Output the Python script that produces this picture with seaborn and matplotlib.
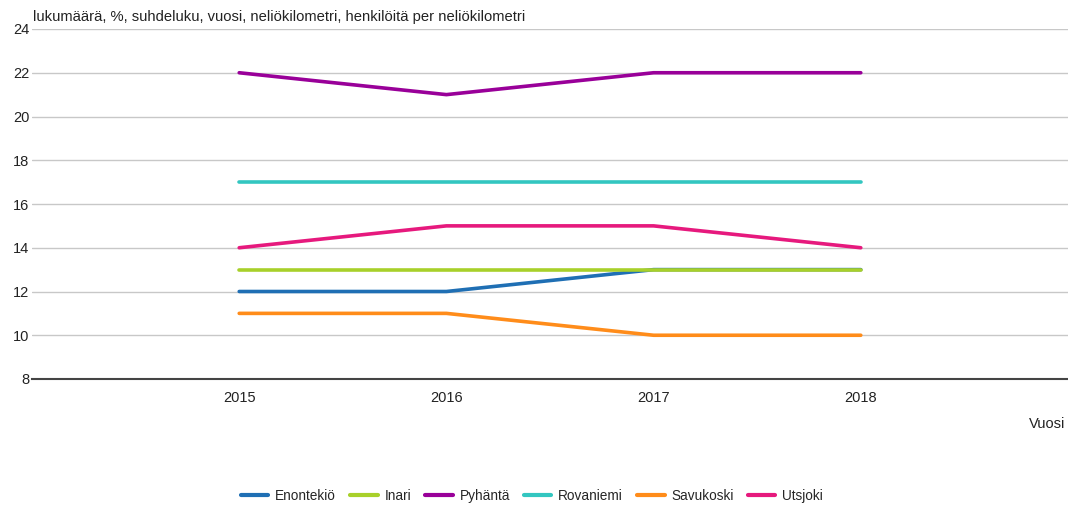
import pandas as pd
import seaborn as sns
import matplotlib.pyplot as plt

# data
years = ['2015', '2016', '2017', '2018']
enontekio = [12, 12, 13, 13]
inari = [13, 13, 13, 13]
pyhanta = [22, 21, 22, 22]
rovaniemi = [17, 17, 17, 17]
savukoski = [11, 11, 10, 10]
utsjoki = [14, 15, 15, 14]

names = ['Enontekiö', 'Inari', 'Pyhäntä', 'Rovaniemi', 'Savukoski', 'Utsjoki']
series = [enontekio, inari, pyhanta, rovaniemi, savukoski, utsjoki]
colors = ['#1f6fb4', '#a8d02a', '#990099', '#33c6c0', '#ff8c1a', '#e6197d']

rows = []
for name, vals in zip(names, series):
    for i, v in enumerate(vals):
        rows.append({'kunta': name, 'pos': i, 'arvo': v})
df = pd.DataFrame(rows)

sns.set_style('white')
plt.rcParams['font.family'] = ['Liberation Sans', 'DejaVu Sans']

fig = plt.figure(figsize=(10.68, 5.07), dpi=100)
ax = fig.add_axes([32 / 1068, 1 - 379 / 507, 1 - 32 / 1068, 350 / 507])

sns.lineplot(data=df, x='pos', y='arvo', hue='kunta', palette=colors,
             hue_order=names, linewidth=2.6, ax=ax, legend=False)

ax.set_xlim(-1, 4)
ax.set_ylim(8, 24)
ax.set_yticks(range(8, 25, 2))
ax.set_xticks(range(len(years)))
ax.set_xticklabels(years)
ax.tick_params(axis='both', length=0, labelsize=10.5, colors='#222222')
ax.tick_params(axis='x', pad=9)
ax.tick_params(axis='y', pad=2)
ax.yaxis.grid(True, color='#c8c8c8', linewidth=1)
ax.set_axisbelow(True)
for s in ['top', 'right', 'left']:
    ax.spines[s].set_visible(False)
ax.spines['bottom'].set_color('#444444')
ax.spines['bottom'].set_linewidth(1.5)
ax.set_xlabel('')
ax.set_ylabel('')

fig.text(33 / 1068, 1 - 17 / 507, 'lukumäärä, %, suhdeluku, vuosi, neliökilometri, henkilöitä per neliökilometri',
         fontsize=10.6, va='center', ha='left', color='#222222')
fig.text(1065 / 1068, 1 - 424 / 507, 'Vuosi', fontsize=10.5, va='center', ha='right', color='#222222')

handles = [plt.Line2D([0], [0], color=c, linewidth=3) for c in colors]
fig.legend(handles, names, loc='center', bbox_to_anchor=(532 / 1068, 1 - 496 / 507),
           ncol=6, frameon=False, fontsize=9.8, handlelength=2.0, columnspacing=1.05,
           handletextpad=0.5)

fig.savefig('out.png', dpi=100)
